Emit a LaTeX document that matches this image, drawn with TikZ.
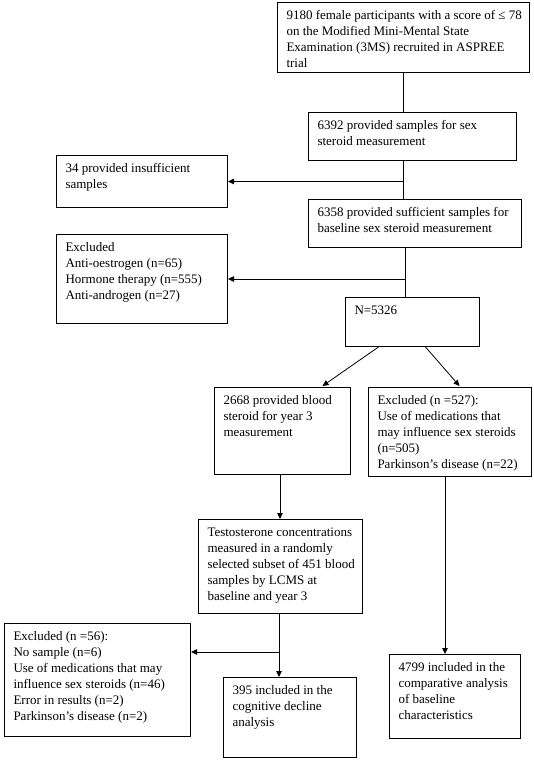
\documentclass[tikz,border=0pt]{standalone}
\usepackage{fontspec}
\setmainfont{Liberation Serif}
\usetikzlibrary{arrows.meta}
\newcommand\bxt[3]{\parbox[c][#2pt][t]{\dimexpr#1pt-18pt\relax}{\vspace*{5.8pt}\begin{tabular}[t]{@{}l@{}}#3\end{tabular}}}
\begin{document}
\begin{tikzpicture}[x=1pt,y=-1pt,
  bx/.style={draw, line width=1pt, anchor=north west, inner xsep=9pt, inner ysep=0pt, font=\fontsize{13}{16}\selectfont},
  ln/.style={line width=0.8pt},
  arr/.style={line width=0.8pt, -{Triangle[length=6pt,width=5.5pt]}}]
\useasboundingbox[fill=white] (0,0) rectangle (534,761);
\node[bx] (b1) at (277,2) {\bxt{252}{70}{9180 female participants with a score of ≤ 78\\on the Modified Mini-Mental State\\Examination (3MS) recruited in ASPREE\\trial}};
\node[bx] (b2) at (308,112) {\bxt{208}{48}{6392 provided samples for sex\\steroid measurement}};
\node[bx] (b34) at (56,155) {\bxt{171}{52}{34 provided insufficient\\samples}};
\node[bx] (b6358) at (308,199) {\bxt{213}{48}{6358 provided sufficient samples for\\baseline sex steroid measurement}};
\node[bx] (bex1) at (56,234) {\bxt{171}{89}{Excluded\\Anti-oestrogen (n=65)\\Hormone therapy (n=555)\\Anti-androgen (n=27)}};
\node[bx] (bN) at (345,297) {\bxt{134}{49}{N=5326}};
\node[bx] (b2668) at (214,387) {\bxt{136}{87}{2668 provided blood\\steroid for year 3\\measurement}};
\node[bx] (bex527) at (368,387) {\bxt{163}{89}{Excluded (n =527):\\Use of medications that\\may influence sex steroids\\(n=505)\\Parkinson’s disease (n=22)}};
\node[bx] (btest) at (198,519) {\bxt{164}{94}{Testosterone concentrations\\measured in a randomly\\selected subset of 451 blood\\samples by LCMS at\\baseline and year 3}};
\node[bx] (bex56) at (4,623) {\bxt{186}{113}{Excluded (n =56):\\No sample (n=6)\\Use of medications that may\\influence sex steroids (n=46)\\Error in results (n=2)\\Parkinson’s disease (n=2)}};
\node[bx] (b395) at (223,677) {\bxt{133}{80}{395 included in the\\cognitive decline\\analysis}};
\node[bx] (b4799) at (389,654) {\bxt{131}{84}{4799 included in the\\comparative analysis\\of baseline\\characteristics}};
% connectors
\draw[ln] (b1.south) -- (b1.south |- b2.north);
\draw[ln] (b1.south |- b2.south) -- (b1.south |- b6358.north);
\draw[arr] (b1.south |- b34.east) -- (b34.east);
\coordinate (x2) at (405,0);
\draw[ln] (x2 |- b6358.south) -- (x2 |- bN.north);
\draw[arr] (x2 |- bex1.east) -- (bex1.east);
\draw[arr] ([xshift=-34pt]bN.south) -- ([xshift=40pt,yshift=1pt]b2668.north);
\draw[arr] ([xshift=13pt]bN.south) -- ([xshift=9.5pt,yshift=1pt]bex527.north);
\coordinate (x3) at (280,0);
\draw[arr] (x3 |- b2668.south) -- (x3 |- btest.north);
\coordinate (x4) at (279,0);
\draw[arr] (x4 |- btest.south) -- (x4 |- b395.north);
\coordinate (j4) at (279,652);
\draw[arr] (j4) -- (j4 -| bex56.east);
\coordinate (x5) at (445,0);
\draw[arr] (x5 |- bex527.south) -- (x5 |- b4799.north);
\end{tikzpicture}
\end{document}
